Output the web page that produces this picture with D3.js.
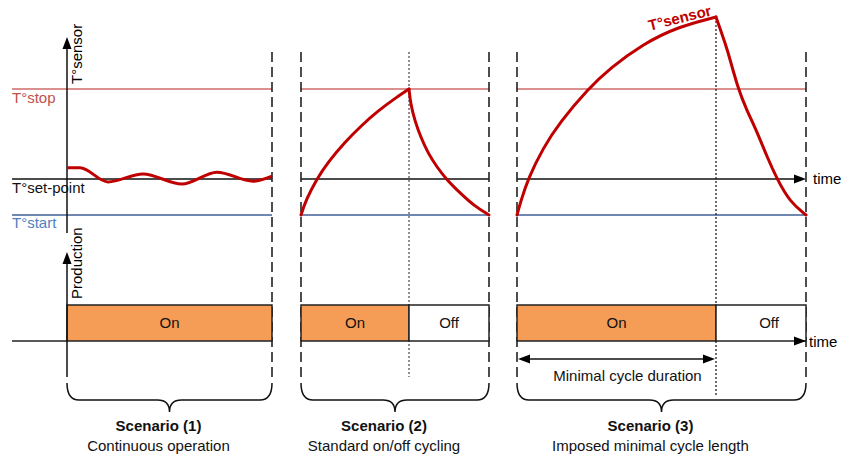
<!DOCTYPE html>
<html><head><meta charset="utf-8">
<script src="https://cdn.jsdelivr.net/npm/d3@7"></script>
<style>
html,body{margin:0;padding:0;background:#fff;}
svg{display:block;font-family:"Liberation Sans",Arial,sans-serif;}
</style></head>
<body><svg id="c" width="844" height="458"></svg>
<script>
// ---------- data ----------
const levelNames  = ["T°stop", "T°set-point", "T°start"];
const levelValues = [3.5, 1, 0];
const scenarioTitles    = ["Scenario (1)", "Scenario (2)", "Scenario (3)"];
const scenarioSubtitles = ["Continuous operation", "Standard on/off cycling", "Imposed minimal cycle length"];
const scenarioStart  = [0, 23.4, 45];
const scenarioSwitch = [20.5, 34.2, 64.9];   // production on -> off
const scenarioEnd    = [20.5, 42.2, 73.9];
const stateLabels = ["On", "Off"];
// sensor temperature readings  [time, temperature]
const sensor1 = [[0,1.31],[1.3,1.31],[4.1,0.92],[7.6,1.14],[11.5,0.86],[15,1.19],[18.6,0.94],[20.5,1.08]];
const sensor2Rise = [[23.4,0],[23.9,0.42],[24.97,1],[26.1,1.47],[27.8,2.03],[29.5,2.5],[31.1,2.89],[32.8,3.24],[34.2,3.5]];
const sensor2Fall = [[34.2,3.5],[34.35,3.1],[34.8,2.6],[35.4,2.15],[36.1,1.72],[37.0,1.33],[37.9,1.0],[39.5,0.56],[40.8,0.24],[42.2,0]];
const sensor3Rise = [[45,0],[45.4,0.4],[46.1,1],[47.6,1.86],[49.3,2.58],[52.1,3.5],[54.3,4.08],[57.6,4.75],[61,5.22],[64.9,5.5]];
const sensor3Fall = [[64.9,5.5],[65.4,5.1],[66,4.64],[67.1,3.5],[68,2.9],[69,2.31],[70,1.62],[71,1],[72.3,0.36],[73.9,0]];
const minCycleLabel = "Minimal cycle duration";
const axisLabels = ["T°sensor", "Production", "time"];

// ---------- scales ----------
const x  = d3.scaleLinear().domain([-5.5, 73.9]).range([12, 806]);
const yT = d3.scaleLinear().domain([0, 3.5]).range([215, 89]);
const yP = d3.scaleLinear().domain([0, 1]).range([341, 305]);

const svg = d3.select("#c");
const FS = 15;
const levelLine = ["#cf6b6b", "#111", "#3f5f97"];
const levelText = ["#c0504d", "#111", "#4f81bd"];
const RED = "#c00000";

function arrowHead(g, tx, ty, dir){ // dir: "up","right","left"
  const L = 12, W = 4.5;
  let p;
  if(dir==="up") p = [[tx,ty],[tx-W,ty+L],[tx+W,ty+L]];
  else if(dir==="right") p = [[tx,ty],[tx-L,ty-W],[tx-L,ty+W]];
  else p = [[tx,ty],[tx+L,ty-W],[tx+L,ty+W]];
  g.append("path").attr("d", d3.line()(p)+"Z").attr("fill","#000");
}

// ---------- level lines ----------
const lineSpans = [[x.domain()[0], scenarioEnd[0]], [scenarioStart[1], scenarioEnd[1]], [scenarioStart[2], scenarioEnd[2]]];
levelValues.forEach((v,i)=>{
  lineSpans.forEach((s,k)=>{
    const x2 = (i===1 && k===2) ? x(s[1])-10 : x(s[1]);
    svg.append("line").attr("x1",x(s[0])).attr("x2",x2)
      .attr("y1",yT(v)).attr("y2",yT(v))
      .attr("stroke",levelLine[i]).attr("stroke-width",1.5);
  });
});
arrowHead(svg, x(scenarioEnd[2]), yT(levelValues[1]), "right");
svg.append("text").attr("x",x(scenarioEnd[2])+7).attr("y",yT(levelValues[1])+5)
  .attr("font-size",FS).text(axisLabels[2]);

// level labels
const labelDy = [14, 14, 13];
levelNames.forEach((n,i)=>{
  svg.append("text").attr("x",12).attr("y",yT(levelValues[i])+labelDy[i])
    .attr("font-size",FS).attr("fill",levelText[i]).text(n);
});

// ---------- guide lines ----------
const guideTop = 52, guideBot = 377;
const dashedXs = [scenarioEnd[0], scenarioStart[1], scenarioEnd[1], scenarioStart[2], scenarioEnd[2]];
dashedXs.forEach(t=>{
  svg.append("line").attr("x1",x(t)).attr("x2",x(t)).attr("y1",guideTop).attr("y2",guideBot)
    .attr("stroke","#222").attr("stroke-width",1.6).attr("stroke-dasharray","10,5");
});
svg.append("line").attr("x1",x(scenarioSwitch[1])).attr("x2",x(scenarioSwitch[1]))
  .attr("y1",guideTop).attr("y2",guideBot)
  .attr("stroke","#222").attr("stroke-width",1).attr("stroke-dasharray","2,2");
svg.append("line").attr("x1",x(scenarioSwitch[2])).attr("x2",x(scenarioSwitch[2]))
  .attr("y1",yT(5.5)).attr("y2",395)
  .attr("stroke","#222").attr("stroke-width",1.3).attr("stroke-dasharray","2,2");

// ---------- production bars ----------
const barsData = [];
scenarioStart.forEach((s,i)=>{
  barsData.push({x0:s, x1:scenarioSwitch[i], on:true});
  if(scenarioEnd[i]>scenarioSwitch[i]) barsData.push({x0:scenarioSwitch[i], x1:scenarioEnd[i], on:false});
});
svg.selectAll("rect.bar").data(barsData).enter().append("rect").attr("class","bar")
  .attr("x",d=>x(d.x0)).attr("y",yP(1)).attr("width",d=>x(d.x1)-x(d.x0)).attr("height",yP(0)-yP(1))
  .attr("fill",d=>d.on?"#f59d57":"#fff").attr("stroke","#222").attr("stroke-width",1.5);
svg.selectAll("text.bar").data(barsData).enter().append("text")
  .attr("x",(d,i)=>(x(d.x0)+x(d.x1))/2 + (d.on?0:(i===barsData.length-1?8:0)))
  .attr("y",yP(0.5)+5).attr("text-anchor","middle").attr("font-size",FS).attr("fill","#111")
  .text(d=>d.on?stateLabels[0]:stateLabels[1]);

// baseline left of scenario 1 and time arrow for scenario 3
svg.append("line").attr("x1",x(x.domain()[0])).attr("x2",x(0)).attr("y1",yP(0)).attr("y2",yP(0))
  .attr("stroke","#222").attr("stroke-width",1.5);
arrowHead(svg, x(scenarioEnd[2]), yP(0), "right");
svg.append("text").attr("x",x(scenarioEnd[2])+3).attr("y",yP(0)+6)
  .attr("font-size",FS).text(axisLabels[2]);

// ---------- axes ----------
svg.append("line").attr("x1",x(0)).attr("x2",x(0)).attr("y1",233).attr("y2",45)
  .attr("stroke","#111").attr("stroke-width",1.5);
arrowHead(svg, x(0), 37, "up");
svg.append("line").attr("x1",x(0)).attr("x2",x(0)).attr("y1",377).attr("y2",260)
  .attr("stroke","#111").attr("stroke-width",1.5);
arrowHead(svg, x(0), 252, "up");
svg.append("text").attr("transform",`translate(${x(0)+15},84) rotate(-90)`)
  .attr("font-size",FS).text(axisLabels[0]);
svg.append("text").attr("transform",`translate(${x(0)+15},299) rotate(-90)`)
  .attr("font-size",FS).text(axisLabels[1]);

// ---------- sensor curves ----------
const waveLine = d3.line().x(d=>x(d[0])).y(d=>yT(d[1])).curve(d3.curveMonotoneX);
const smoothLine = d3.line().x(d=>x(d[0])).y(d=>yT(d[1])).curve(d3.curveBasis);
svg.append("path").attr("d",waveLine(sensor1)).attr("fill","none").attr("stroke",RED)
  .attr("stroke-width",3);
[sensor2Rise, sensor2Fall, sensor3Rise, sensor3Fall].forEach(s=>{
  svg.append("path").attr("d",smoothLine(s)).attr("fill","none").attr("stroke",RED)
    .attr("stroke-width",3).attr("stroke-linejoin","round").attr("stroke-linecap","round");
});
svg.append("text").attr("transform","translate(681,23) rotate(-14)")
  .attr("text-anchor","middle").attr("font-size",FS).attr("font-weight","bold")
  .attr("fill",RED).text(axisLabels[0]);

// ---------- minimal cycle duration ----------
const mcY = 359;
svg.append("line").attr("x1",x(scenarioStart[2])+8).attr("x2",x(scenarioSwitch[2])-8)
  .attr("y1",mcY).attr("y2",mcY).attr("stroke","#111").attr("stroke-width",1.3);
arrowHead(svg, x(scenarioStart[2])+1, mcY, "left");
arrowHead(svg, x(scenarioSwitch[2])-1, mcY, "right");
svg.append("text").attr("x",(x(scenarioStart[2])+x(scenarioSwitch[2]))/2+11).attr("y",381)
  .attr("text-anchor","middle").attr("font-size",FS).attr("fill","#111").text(minCycleLabel);

// ---------- braces ----------
scenarioStart.forEach((s,i)=>{
  const x1 = x(s), x2 = x(scenarioEnd[i]), m = (x1+x2)/2;
  const top = 383, h = 400, tip = 412, r = 12;
  const d = `M${x1},${top} Q${x1},${h} ${x1+r},${h} L${m-r},${h} Q${m},${h} ${m},${tip} Q${m},${h} ${m+r},${h} L${x2-r},${h} Q${x2},${h} ${x2},${top}`;
  svg.append("path").attr("d",d).attr("fill","none").attr("stroke","#111").attr("stroke-width",1.5);
  svg.append("text").attr("x",m-11).attr("y",431).attr("text-anchor","middle")
    .attr("font-size",FS).attr("font-weight","bold").attr("fill","#111").text(scenarioTitles[i]);
  svg.append("text").attr("x",m-11).attr("y",451).attr("text-anchor","middle")
    .attr("font-size",FS).attr("fill","#111").text(scenarioSubtitles[i]);
});
</script></body></html>
